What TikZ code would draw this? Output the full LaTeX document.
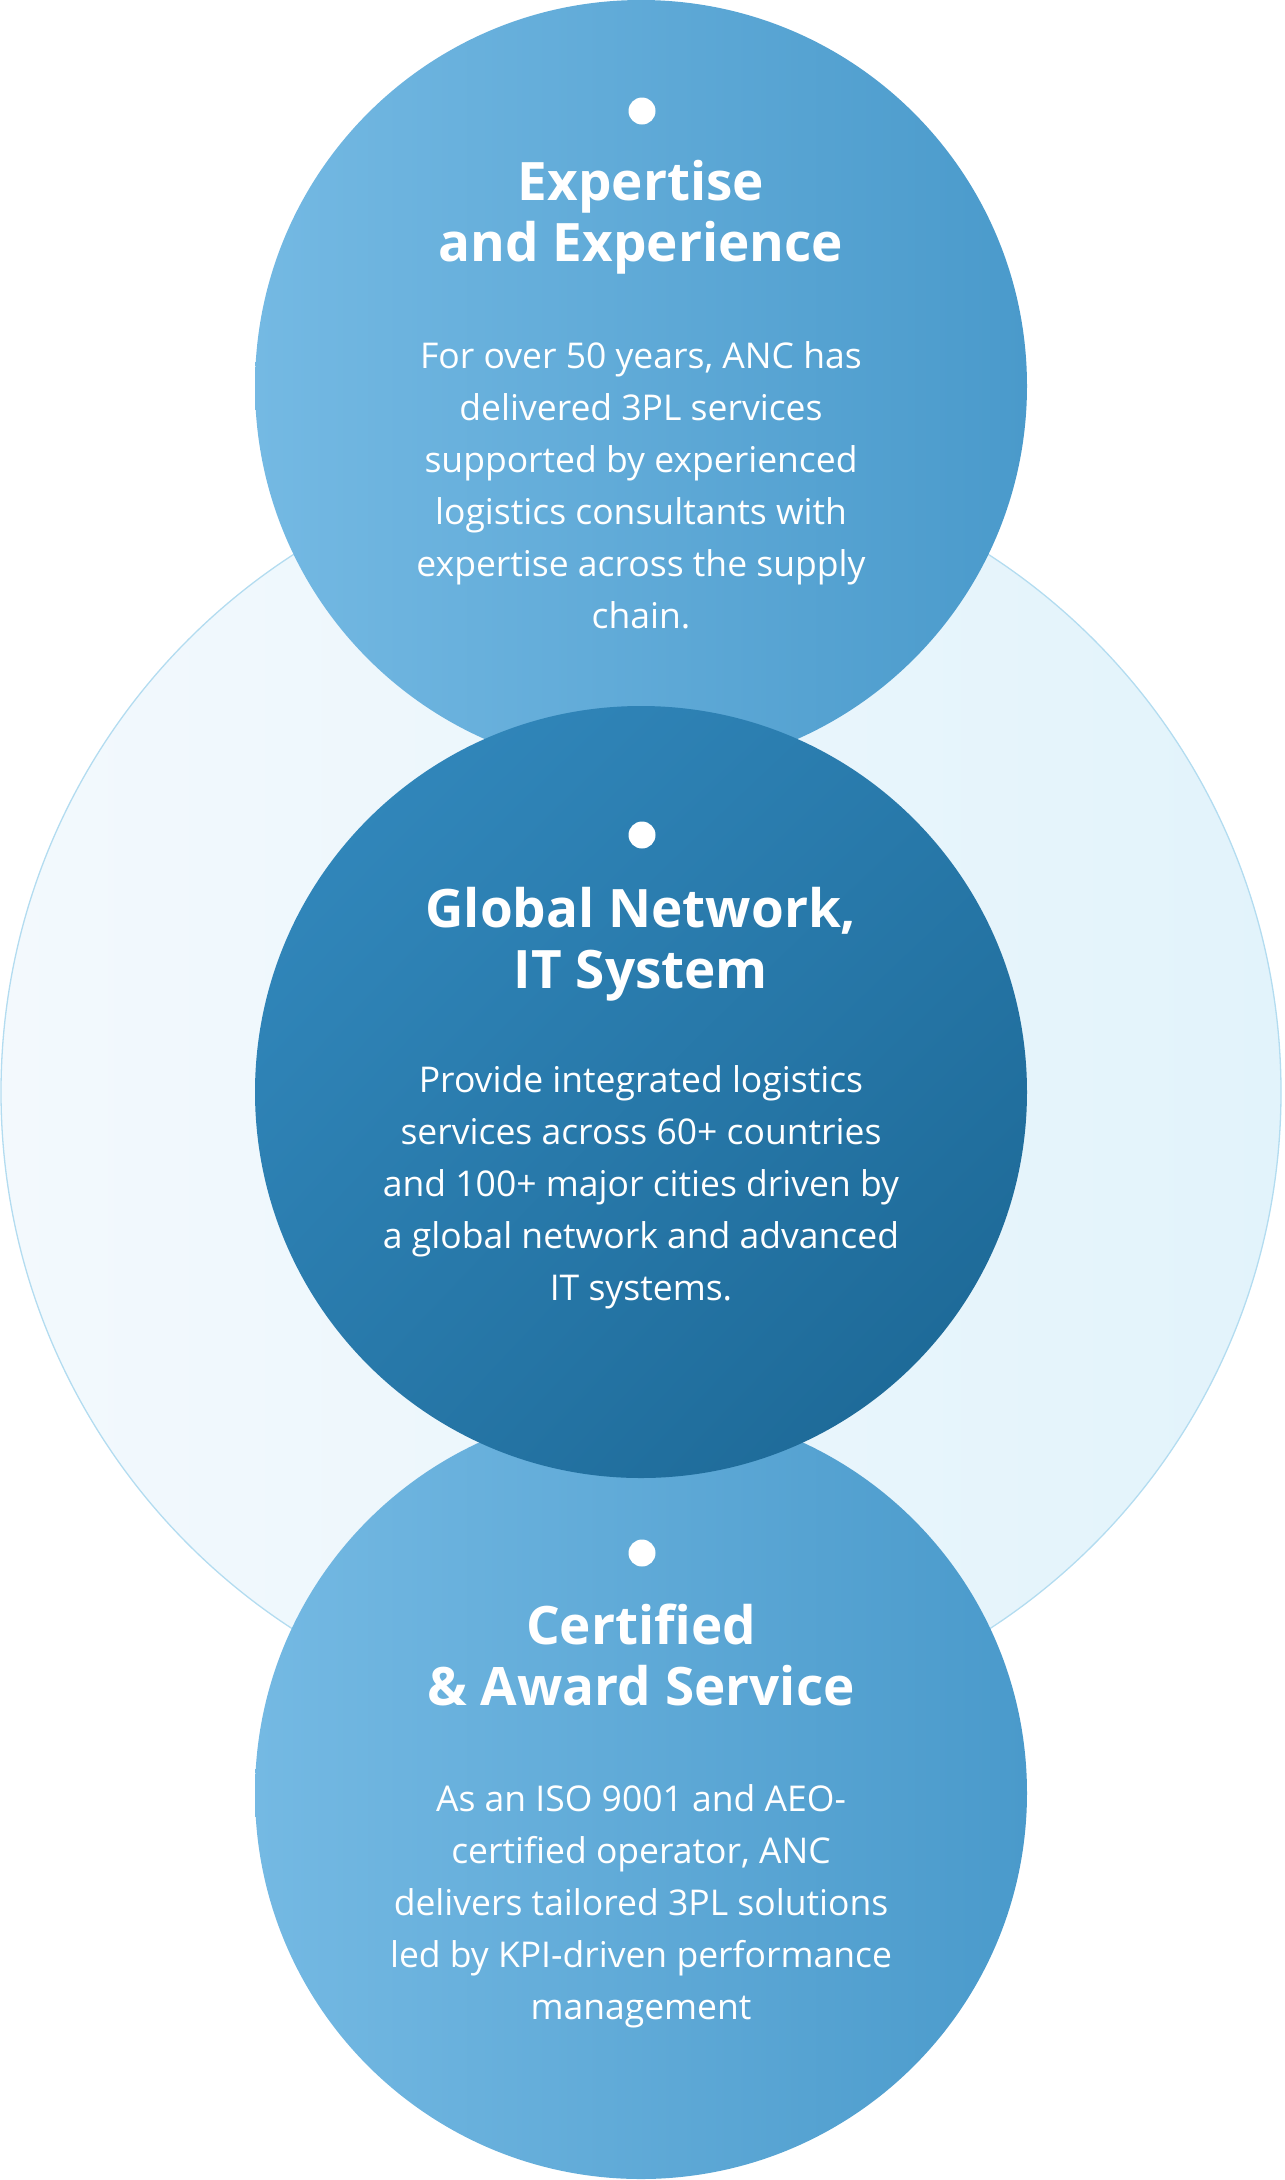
\documentclass[tikz,border=0pt]{standalone}
\usepackage{fontspec}
\usetikzlibrary{shadings}
\setmainfont{Open Sans}
\definecolor{bgL}{HTML}{F3F9FD}
\definecolor{bgR}{HTML}{E2F3FB}
\definecolor{bgBorder}{HTML}{B3DCF0}
\definecolor{sideL}{HTML}{74B9E3}
\definecolor{sideR}{HTML}{4A9ACB}
\definecolor{midA}{HTML}{348BC0}
\definecolor{midM}{HTML}{2879AA}
\definecolor{midB}{HTML}{1A6592}
\tikzset{
  titletext/.style={text=white, font=\bfseries\fontsize{53}{61}\selectfont, align=center, inner sep=0pt, anchor=base},
  bodytext/.style={text=white, font=\fontsize{35.5}{52}\selectfont, align=center, inner sep=0pt, anchor=base},
  dotmark/.style={circle, fill=white, minimum size=27pt, inner sep=0pt}
}
\begin{document}
\begin{tikzpicture}[x=1pt,y=-1pt]
\useasboundingbox (0,0) rectangle (1285,2180);
% background circle
\shade[left color=bgL, right color=bgR] (641,1092) circle[radius=640pt];
\draw[bgBorder, line width=1.3pt] (641,1092) circle[radius=640pt];
% top circle
\shade[left color=sideL, right color=sideR] (641,386) circle[radius=386pt];
% bottom circle
\shade[left color=sideL, right color=sideR] (641,1793) circle[radius=386pt];
% middle circle
\shade[upper left=midA, upper right=midM, lower left=midM, lower right=midB] (641,1092) circle[radius=386pt];

% top texts (anchor base = last line baseline)
\node[dotmark] (d1) at (642,111) {};
\node[titletext] (t1) at (641,261) {Expertise\\and Experience};
\node[bodytext] (b1) at (641,628) {For over 50 years, ANC has\\delivered 3PL services\\supported by experienced\\logistics consultants with\\expertise across the supply\\chain.};

% middle texts
\node[dotmark] (d2) at (642,835) {};
\node[titletext] (t2) at (641,988) {Global Network,\\IT System};
\node[bodytext] (b2) at (641,1300) {Provide integrated logistics\\services across 60+ countries\\and 100+ major cities driven by\\a global network and advanced\\IT systems.};

% bottom texts
\node[dotmark] (d3) at (642,1553) {};
\node[titletext] (t3) at (641,1705) {Certified\\\& Award Service};
\node[bodytext] (b3) at (641,2019) {As an ISO 9001 and AEO-\\certified operator, ANC\\delivers tailored 3PL solutions\\led by KPI-driven performance\\management};
\end{tikzpicture}
\end{document}
